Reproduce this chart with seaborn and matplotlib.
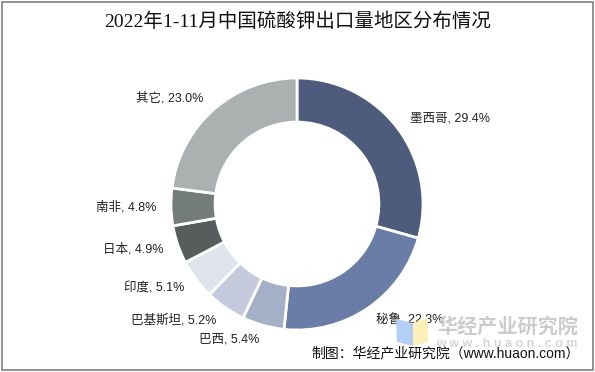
import matplotlib
matplotlib.use('Agg')
import matplotlib.pyplot as plt
from matplotlib.patches import Rectangle, Polygon
import seaborn as sns

# data
regions = ['墨西哥', '秘鲁', '巴西', '巴基斯坦', '印度', '日本', '南非', '其它']
shares = [29.4, 22.3, 5.4, 5.2, 5.1, 4.9, 4.8, 23.0]
colors = ['#4d5b7c', '#6a7da6', '#a4b0c8', '#c4cadb', '#dfe3ec', '#575d5c', '#747c79', '#abb0b0']
title = '2022年1-11月中国硫酸钾出口量地区分布情况'
source = '制图：华经产业研究院（www.huaon.com）'

sns.set_theme(style='white')
sans = ['Liberation Sans', 'Noto Sans CJK SC', 'DejaVu Sans']
plt.rcParams['font.family'] = sans

W, H = 595, 372
fig = plt.figure(figsize=(W / 100, H / 100), dpi=100)

def fx(px):
    return px / W

def fy(py):
    return 1 - py / H

# watermark logo (drawn beneath everything)
fig.patches.append(Polygon([(fx(396), fy(319)), (fx(413), fy(323)), (fx(413), fy(346)), (fx(397), fy(342))],
                           closed=True, transform=fig.transFigure, facecolor='#b3cff5', edgecolor='none', zorder=0))
fig.patches.append(Polygon([(fx(413), fy(323)), (fx(428), fy(318)), (fx(428), fy(342)), (fx(413), fy(346))],
                           closed=True, transform=fig.transFigure, facecolor='#fdf0b8', edgecolor='none', zorder=0))
fig.text(fx(508), fy(326), '华经产业研究院', ha='center', va='center', fontsize=14.5, fontweight='bold',
         color='#cccccc', family=['Noto Sans CJK SC'], zorder=0)
fig.text(fx(507), fy(344), 'w w w . h u a o n . c o m', ha='center', va='center', fontsize=9, fontweight='bold',
         color='#d6d6d6', zorder=0)

# donut: centre at (297, 204) px, radius ~126 px
R = 126
half = 150
ax = fig.add_axes([fx(297 - half), 1 - (204 + half) / H, 2 * half / W, 2 * half / H])
ax.patch.set_alpha(0)

labels = [f'{r}, {v}%' for r, v in zip(regions, shares)]
ax.pie(shares, labels=labels, colors=sns.color_palette(colors), startangle=90, counterclock=False,
       labeldistance=1.12, wedgeprops=dict(width=0.35, edgecolor='white', linewidth=2),
       textprops=dict(fontsize=9, color='#222222', family=sans))

lim = half / R
ax.set_xlim(-lim, lim)
ax.set_ylim(-lim, lim)
ax.set_aspect('equal')
ax.axis('off')

fig.text(0.5, fy(22), title, ha='center', va='center', fontsize=14, color='#111111',
         family=['Liberation Serif', 'Noto Sans CJK SC'])
fig.text(fx(580), fy(353), source, ha='right', va='center', fontsize=10, color='#111111', family=sans)

fig.patches.append(Rectangle((fx(2), fy(370)), fx(591), 368 / H, transform=fig.transFigure,
                             fill=False, edgecolor='#808080', linewidth=1.2, zorder=5))

fig.savefig('out.png', dpi=100)
